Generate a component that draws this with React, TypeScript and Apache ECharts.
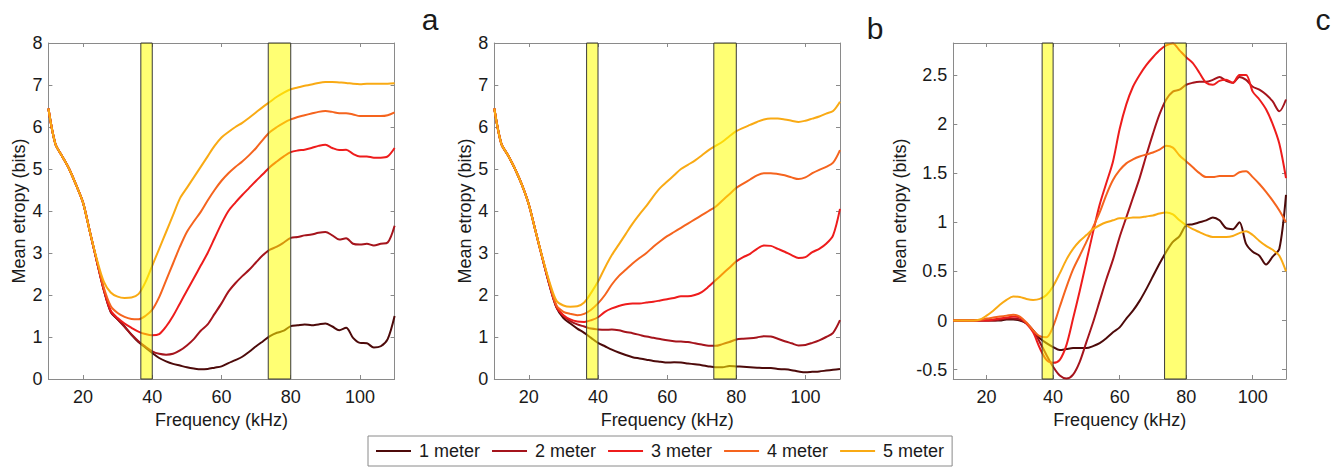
import React, { useEffect, useRef } from "react";
import * as echarts from "echarts";

const FREQ = [10,12,14,16,18,20,22,24,26,28,30,32,34,36,38,40,42,44,46,48,50,52,54,56,58,60,62,64,66,68,70,72,74,76,78,80,82,84,86,88,90,92,94,96,98,100,102,104,106,108,110];

const NAMES = ["1 meter", "2 meter", "3 meter", "4 meter", "5 meter"];
const COLORS = ["#4d0a0a", "#a5141c", "#ee1c1c", "#f5641e", "#f9aa14"];

// Panel a
const A1 = [6.44,5.6,5.3,5.0,4.62,4.2,3.5,2.8,2.12, 1.6,1.42,1.25,1.05,0.88,0.75, 0.62,0.5,0.42,0.36,0.32, 0.28,0.25,0.23,0.24,0.27, 0.3,0.38,0.45,0.53,0.65, 0.78,0.9,1.02,1.1,1.15, 1.26,1.28,1.3,1.28,1.3, 1.32,1.25,1.16,1.22,0.98, 0.86,0.85,0.75,0.78,0.95, 1.5];
const A2 = [6.44,5.6,5.3,5.0,4.62,4.2,3.5,2.8,2.12, 1.6,1.42,1.24,1.06,0.9,0.77, 0.66,0.6,0.58,0.6,0.68, 0.8,0.95,1.15,1.3,1.55, 1.8,2.08,2.28,2.45,2.6, 2.78,2.95,3.08,3.15,3.25, 3.36,3.38,3.42,3.44,3.48, 3.5,3.42,3.32,3.35,3.22, 3.2,3.22,3.18,3.22,3.25, 3.65];
const A3 = [6.44,5.6,5.3,5.0,4.62,4.2,3.5,2.8,2.13, 1.63,1.45,1.32,1.22,1.13,1.07, 1.04,1.07,1.25,1.5,1.8, 2.1,2.4,2.7,3.0,3.35, 3.7,4.0,4.2,4.38,4.55, 4.72,4.88,5.05,5.18,5.3, 5.4,5.44,5.46,5.5,5.55, 5.58,5.5,5.45,5.46,5.36, 5.3,5.3,5.27,5.27,5.3, 5.5];
const A4 = [6.44,5.6,5.3,5.0,4.62,4.2,3.5,2.82,2.18, 1.74,1.57,1.48,1.43,1.42,1.5, 1.65,1.95,2.35,2.75,3.15, 3.5,3.75,3.98,4.25,4.5, 4.72,4.9,5.05,5.18,5.33, 5.5,5.7,5.88,6.0,6.1, 6.18,6.24,6.28,6.32,6.36, 6.38,6.36,6.33,6.33,6.3, 6.26,6.26,6.26,6.26,6.28, 6.35];
const A5 = [6.44,5.6,5.3,5.0,4.62,4.2,3.5,2.85,2.32, 2.06,1.96,1.93,1.94,2.02,2.3, 2.7,3.1,3.5,3.9,4.3, 4.55,4.8,5.05,5.3,5.55, 5.75,5.88,6.0,6.1,6.22, 6.35,6.48,6.6,6.72,6.82, 6.9,6.94,6.98,7.01,7.05, 7.07,7.07,7.06,7.05,7.03, 7.02,7.03,7.03,7.03,7.03, 7.04];

// Panel b
const B1 = [6.44,5.61,5.32,5.0,4.62,4.15,3.5,2.85,2.22, 1.7,1.45,1.32,1.2,1.1,0.98, 0.86,0.78,0.7,0.63,0.57, 0.52,0.49,0.46,0.43,0.41, 0.39,0.4,0.39,0.37,0.35, 0.33,0.3,0.28,0.28,0.31, 0.3,0.29,0.28,0.27,0.26, 0.26,0.24,0.23,0.21,0.18, 0.16,0.17,0.18,0.2,0.22, 0.24];
const B2 = [6.44,5.61,5.32,5.0,4.62,4.15,3.5,2.85,2.23, 1.71,1.5,1.38,1.3,1.25,1.2, 1.18,1.17,1.18,1.16,1.12, 1.09,1.05,1.01,0.98,0.95, 0.92,0.9,0.89,0.88,0.85, 0.82,0.79,0.79,0.83,0.88, 0.94,0.96,0.97,0.99,1.02, 1.01,0.96,0.9,0.85,0.8, 0.81,0.86,0.92,1.0,1.1, 1.4];
const B3 = [6.44,5.61,5.32,5.0,4.62,4.15,3.5,2.85,2.24, 1.72,1.52,1.42,1.37,1.36,1.4, 1.47,1.6,1.68,1.74,1.78, 1.8,1.8,1.82,1.84,1.87, 1.9,1.93,1.97,1.97,2.0, 2.07,2.2,2.35,2.5,2.65, 2.8,2.9,2.98,3.1,3.18, 3.17,3.1,3.03,2.95,2.88, 2.9,3.02,3.1,3.22,3.42, 4.05];
const B4 = [6.44,5.61,5.32,5.0,4.62,4.15,3.5,2.86,2.26, 1.75,1.6,1.55,1.52,1.55,1.65, 1.8,2.0,2.25,2.45,2.6, 2.75,2.88,3.0,3.15,3.28, 3.4,3.5,3.6,3.7,3.8, 3.9,4.0,4.1,4.25,4.4, 4.55,4.65,4.75,4.85,4.9, 4.9,4.88,4.85,4.8,4.76, 4.8,4.9,4.98,5.05,5.15, 5.45];
const B5 = [6.44,5.61,5.32,5.0,4.62,4.15,3.5,2.87,2.3, 1.86,1.75,1.72,1.73,1.82,2.05, 2.32,2.65,2.95,3.2,3.45, 3.7,3.92,4.12,4.35,4.55, 4.7,4.85,5.0,5.1,5.2, 5.32,5.45,5.55,5.65,5.78, 5.9,5.98,6.05,6.12,6.18, 6.2,6.2,6.18,6.15,6.12, 6.15,6.2,6.25,6.32,6.38, 6.6];

// Panel c
const C1 = [0,0,0,0,0,0,0,0,0.01, 0.01,0.0,-0.03,-0.1,-0.18,-0.23, -0.27,-0.3,-0.29,-0.28,-0.28, -0.28,-0.26,-0.23,-0.18,-0.12, -0.07,0.02,0.1,0.2,0.32, 0.45,0.58,0.7,0.8,0.86, 0.97,0.98,1.0,1.02,1.05, 1.02,0.94,0.93,1.0,0.78, 0.7,0.66,0.57,0.65,0.73, 1.28];
const C2 = [0,0,0,0,0,0,0,0.01,0.02, 0.02,0.01,-0.03,-0.1,-0.22,-0.35, -0.47,-0.56,-0.59,-0.55,-0.42, -0.22,-0.02,0.2,0.42,0.62, 0.85,1.05,1.25,1.45,1.68, 1.9,2.1,2.25,2.33,2.35, 2.4,2.42,2.43,2.43,2.45, 2.48,2.44,2.42,2.48,2.45, 2.38,2.35,2.3,2.23,2.13, 2.25];
const C3 = [0,0,0,0,0,0,0.01,0.02,0.03, 0.04,0.03,-0.03,-0.12,-0.28,-0.4, -0.43,-0.4,-0.25,0.02,0.3, 0.6,0.9,1.18,1.4,1.62, 1.95,2.2,2.38,2.5,2.6, 2.68,2.75,2.8,2.82,2.75, 2.68,2.62,2.52,2.42,2.4, 2.44,2.45,2.42,2.5,2.5, 2.33,2.25,2.15,2.0,1.8, 1.45];
const C4 = [0,0,0,0,0.005,0.02,0.03,0.04,0.05, 0.06,0.04,-0.02,-0.1,-0.16,-0.17, -0.06,0.14,0.34,0.52,0.66, 0.8,0.95,1.1,1.28,1.43, 1.53,1.6,1.64,1.67,1.69, 1.71,1.74,1.78,1.76,1.68, 1.62,1.56,1.5,1.46,1.46, 1.47,1.47,1.47,1.51,1.52, 1.46,1.39,1.31,1.22,1.12, 1.0];
const C5 = [0,0,0,0,0.01,0.05,0.1,0.16,0.21, 0.245,0.24,0.22,0.21,0.22,0.26, 0.35,0.48,0.62,0.73,0.81, 0.87,0.93,0.97,1.0,1.02, 1.04,1.04,1.05,1.05,1.06, 1.07,1.09,1.1,1.08,1.02, 0.97,0.93,0.9,0.87,0.85, 0.85,0.85,0.86,0.89,0.91, 0.87,0.81,0.76,0.72,0.66, 0.5];

const BANDS = [[36.7, 40], [73.5, 80]];
const PANEL_LETTERS = ["a", "b", "c"];
const X_TITLE = "Frequency (kHz)";
const Y_TITLE = "Mean etropy (bits)";

const FONT = "'Liberation Sans', Arial, Helvetica, sans-serif";
const AXIS_GRAY = "#8a8a8a";
const TEXT = "#1a1a1a";

export default function App() {
  const ref = useRef<HTMLDivElement>(null);
  useEffect(() => {
    if (!ref.current) return;
    const chart = echarts.init(ref.current, null, { renderer: "svg" });
    const panels = [
      { series: [A1, A2, A3, A4, A5], min: 0, max: 8, interval: 1 as number | undefined },
      { series: [B1, B2, B3, B4, B5], min: 0, max: 8, interval: 1 as number | undefined },
      { series: [C1, C2, C3, C4, C5], min: -0.595, max: 2.825, interval: undefined as number | undefined },
    ];
    const grids = [
      { left: 48.4, top: 43, width: 346.2, height: 336 },
      { left: 494.3, top: 43, width: 345.7, height: 336 },
      { left: 953.3, top: 43, width: 332.7, height: 336 },
    ];
    const yNameGap = [20, 20, 44];

    const xAxes: any[] = [];
    const yAxes: any[] = [];
    grids.forEach((_, i) => {
      xAxes.push({
        type: "value", gridIndex: i, min: 10, max: 110, position: "bottom",
        name: X_TITLE, nameLocation: "middle", nameGap: 26,
        nameTextStyle: { fontSize: 18, color: TEXT, fontFamily: FONT },
        axisLine: { show: true, onZero: false, lineStyle: { color: AXIS_GRAY, width: 1 } },
        axisTick: { show: true, inside: true, length: 4, lineStyle: { color: AXIS_GRAY } },
        axisLabel: { fontSize: 18, color: TEXT, fontFamily: FONT, margin: 9,
          formatter: (v: number) => (Math.abs(v % 20) < 1e-6 ? String(v) : "") },
        splitLine: { show: false },
      });
    });
    grids.forEach((_, i) => {
      xAxes.push({
        type: "value", gridIndex: i, min: 10, max: 110, position: "top",
        axisLine: { show: true, onZero: false, lineStyle: { color: AXIS_GRAY, width: 1 } },
        axisTick: { show: true, inside: true, length: 4, lineStyle: { color: AXIS_GRAY } },
        axisLabel: { show: false },
        splitLine: { show: false },
      });
    });
    panels.forEach((p, i) => {
      yAxes.push({
        type: "value", gridIndex: i, min: p.min, max: p.max, interval: p.interval, position: "left",
        name: Y_TITLE, nameLocation: "middle", nameGap: yNameGap[i],
        nameTextStyle: { fontSize: 18, color: TEXT, fontFamily: FONT },
        axisLine: { show: true, onZero: false, lineStyle: { color: AXIS_GRAY, width: 1 } },
        axisTick: { show: true, inside: true, length: 4, lineStyle: { color: AXIS_GRAY } },
        axisLabel: { fontSize: 18, color: TEXT, fontFamily: FONT, margin: 6,
          formatter: (v: number) => (Math.abs(v * 2 - Math.round(v * 2)) < 1e-6 ? String(Math.round(v * 10) / 10) : "") },
        splitLine: { show: false },
      });
    });
    panels.forEach((p, i) => {
      yAxes.push({
        type: "value", gridIndex: i, min: p.min, max: p.max, interval: p.interval, position: "right",
        axisLine: { show: true, onZero: false, lineStyle: { color: AXIS_GRAY, width: 1 } },
        axisTick: { show: true, inside: true, length: 4, lineStyle: { color: AXIS_GRAY } },
        axisLabel: { show: false },
        splitLine: { show: false },
      });
    });

    const series: any[] = [];
    panels.forEach((p, i) => {
      p.series.forEach((vals, m) => {
        series.push({
          type: "line", name: NAMES[m], xAxisIndex: i, yAxisIndex: i,
          data: FREQ.map((f, k) => [f, vals[k]]),
          symbol: "none", showSymbol: false, smooth: 0.3,
          lineStyle: { width: 2, color: COLORS[m] },
          itemStyle: { color: COLORS[m] },
          z: 3, silent: true,
        });
      });
      series.push({
        type: "custom", name: "band" + i, xAxisIndex: i, yAxisIndex: i, z: 10, silent: true,
        data: BANDS.map((b) => [b[0], b[1], p.min]),
        encode: { x: [0, 1], y: 2 },
        renderItem: (params: any, api: any) => {
          const cs = params.coordSys;
          const a = api.coord([api.value(0), p.min]);
          const b = api.coord([api.value(1), p.min]);
          return {
            type: "rect",
            shape: { x: a[0], y: cs.y, width: b[0] - a[0], height: cs.height },
            style: { fill: "rgba(255,255,0,0.55)", stroke: "#3a3a3a", lineWidth: 1 },
          };
        },
      });
    });

    chart.setOption({
      animation: false,
      backgroundColor: "#ffffff",
      textStyle: { fontFamily: FONT },
      grid: grids.map((g) => ({ ...g, containLabel: false })),
      xAxis: xAxes,
      yAxis: yAxes,
      legend: {
        data: NAMES.map((n) => ({ name: n, icon: "rect" })),
        left: 368, top: 436,
        orient: "horizontal",
        itemWidth: 35, itemHeight: 2, itemGap: 12,
        borderColor: AXIS_GRAY, borderWidth: 1, padding: [6, 8, 6, 8],
        textStyle: { fontSize: 18, color: TEXT, fontFamily: FONT, padding: [0, 0, 0, 3] },
        selectedMode: false,
      },
      graphic: [
        { type: "text", x: 430, y: 19, style: { text: PANEL_LETTERS[0], fontSize: 30, fontFamily: FONT, fill: TEXT, align: "center", verticalAlign: "middle" } },
        { type: "text", x: 875, y: 28, style: { text: PANEL_LETTERS[1], fontSize: 30, fontFamily: FONT, fill: TEXT, align: "center", verticalAlign: "middle" } },
        { type: "text", x: 1323, y: 19, style: { text: PANEL_LETTERS[2], fontSize: 30, fontFamily: FONT, fill: TEXT, align: "center", verticalAlign: "middle" } },
      ],
      series,
    });
    return () => chart.dispose();
  }, []);
  return <div ref={ref} style={{ position: "absolute", left: 0, top: 0, width: 1341, height: 467 }} />;
}
